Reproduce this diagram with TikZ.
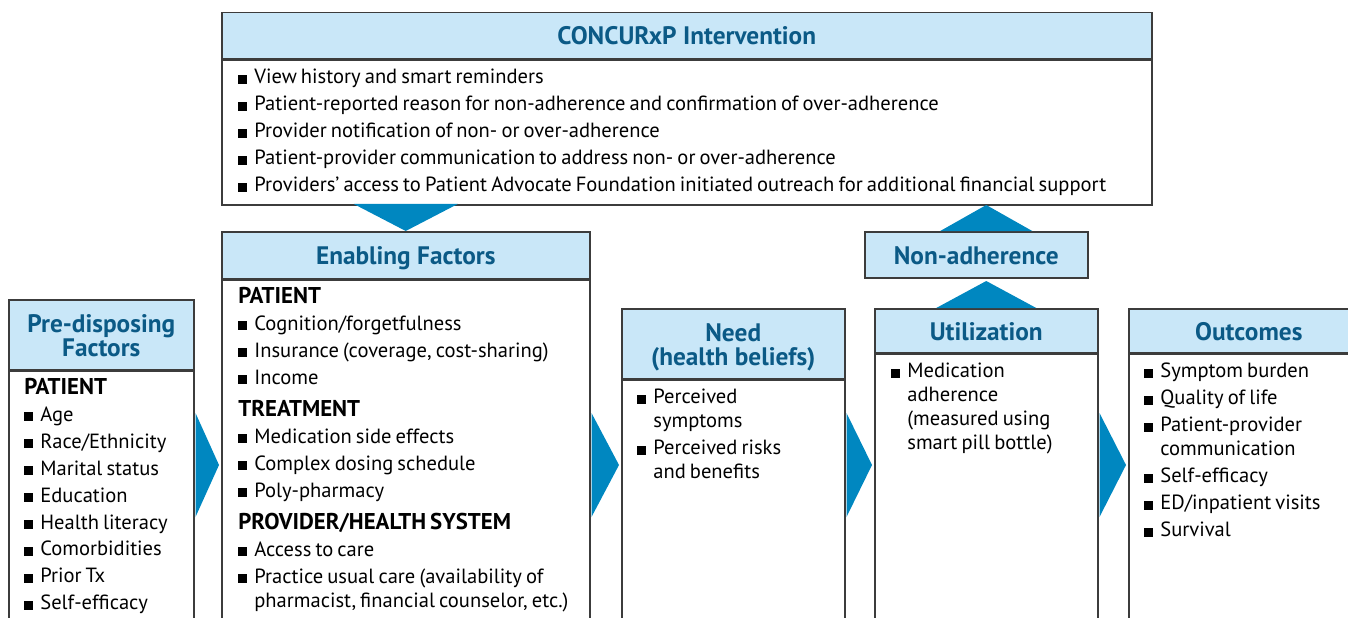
\documentclass[tikz,border=0pt]{standalone}
\usepackage{fontspec}
\setmainfont{PT Sans}
\usetikzlibrary{calc}

\definecolor{headblue}{HTML}{C9E7F8}
\definecolor{titleblue}{HTML}{0B5A86}
\definecolor{arrowblue}{HTML}{0087C0}
\definecolor{framegray}{HTML}{3C3C3C}

\hyphenpenalty=10000
\newdimen\px \px=0.02cm
% bullet item, forced break with indent, group heading
\newcommand{\itm}[1]{\par\parskip=1.7pt\spaceskip=0.2em plus 0.1em minus 0.05em\noindent\makebox[16\px][l]{\rule{9\px}{9\px}}#1}
\newcommand{\nl}{\hfil\break\hspace*{16\px}}
\newcommand{\grp}[1]{\par\parskip=4.6pt\noindent{\fontsize{13}{13.66}\selectfont\bfseries #1}}

\begin{document}
\begin{tikzpicture}[
            x=0.02cm, y=-0.02cm,
            head/.style={
                draw=framegray,
                fill=headblue,
                text=titleblue,
                line width=1.5\px,
                font=\fontsize{14.4}{13.66}\selectfont\bfseries,
                align=center,
                anchor=north west,
                inner sep=0pt,
                text height=12pt,
                text depth=1.2pt
            },
            twoline/.style={text height=26pt, text depth=1pt},
            panel/.style={
                draw=framegray,
                line width=1.5\px,
                anchor=north west,
                inner sep=0pt
            },
            list/.style={
                anchor=north west,
                inner sep=0pt,
                align=left,
                font=\fontsize{11.7}{13.66}\selectfont
            },
            flow/.style={fill=arrowblue}
        ]

            \useasboundingbox (0,0) rectangle (1348,618);
            \clip (0,0) rectangle (1348,618);

            \node[head, text height=11pt, minimum width=930\px, minimum height=46\px] (concur) at (221,12) {CONCURxP Intervention};
            \node[panel, minimum width=930\px, minimum height=145\px] (concurbody) at (concur.south west) {};

            \node[head, minimum width=368\px, minimum height=47\px] (enab) at (221,231) {Enabling Factors};
            \node[panel, minimum width=368\px, minimum height=400\px] (enabbody) at (enab.south west) {};

            \node[head, twoline, minimum width=185\px, minimum height=70\px] (pre) at (8,299) {Pre-disposing\\Factors};
            \node[panel, minimum width=185\px, minimum height=300\px] (prebody) at (pre.south west) {};

            \node[head, twoline, minimum width=223\px, minimum height=70\px] (need) at (621,308) {Need\\(health beliefs)};
            \node[panel, minimum width=223\px, minimum height=300\px] (needbody) at (need.south west) {};

            \node[head, minimum width=223\px, minimum height=44\px] (util) at (874,308) {Utilization};
            \node[panel, minimum width=223\px, minimum height=300\px] (utilbody) at (util.south west) {};

            \node[head, minimum width=240\px, minimum height=44\px] (out) at (1128,308) {Outcomes};
            \node[panel, minimum width=240\px, minimum height=300\px] (outbody) at (out.south west) {};

            \node[head, minimum width=223\px, minimum height=46\px] (non) at (864,231) {Non-adherence};

            \node[list, text width=920\px] (concurlist) at ([shift={(17,-3)}]concurbody.north west) {
                \itm{View history and smart reminders}
                \itm{Patient-reported reason for non-adherence and confirmation of over-adherence}
                \itm{Provider notification of non- or over-adherence}
                \itm{Patient-provider communication to address non- or over-adherence}
                \itm{Providers’ access to Patient Advocate Foundation initiated outreach for additional financial support}};

            \node[list, text width=360\px] (enablist) at ([shift={(17,7)}]enabbody.north west) {
                \noindent{\fontsize{13}{13.66}\selectfont\bfseries PATIENT}
                \itm{Cognition/forgetfulness}
                \itm{Insurance (coverage, cost-sharing)}
                \itm{Income}
                \grp{TREATMENT}
                \itm{Medication side effects}
                \itm{Complex dosing schedule}
                \itm{Poly-pharmacy}
                \grp{PROVIDER/HEALTH SYSTEM}
                \itm{Access to care}
                \itm{Practice usual care (availability of\nl pharmacist, financial counselor, etc.)}};

            \node[list, text width=180\px] (prelist) at ([shift={(16,7)}]prebody.north west) {
                \noindent{\fontsize{13}{13.66}\selectfont\bfseries PATIENT}
                \itm{Age}
                \itm{Race/Ethnicity}
                \itm{Marital status}
                \itm{Education}
                \itm{Health literacy}
                \itm{Comorbidities}
                \itm{Prior Tx}
                \itm{Self-efficacy}};

            \node[list, text width=215\px] (needlist) at ([shift={(16,-3)}]needbody.north west) {
                \itm{Perceived\nl symptoms}
                \itm{Perceived risks\nl and benefits}};

            \node[list, text width=215\px] (utillist) at ([shift={(17,-3)}]utilbody.north west) {
                \itm{Medication\nl adherence\nl (measured using\nl smart pill bottle)}};

            \node[list, text width=225\px] (outlist) at ([shift={(16,-3)}]outbody.north west) {
                \itm{Symptom burden}
                \itm{Quality of life}
                \itm{Patient-provider\nl communication}
                \itm{Self-efficacy}
                \itm{ED/inpatient visits}
                \itm{Survival}};

            \coordinate (mid) at (0,465);
            \coordinate (nonbase) at (util.north |- non.north);

            \fill[flow] ([shift={(-52,-27)}]enab.north) -- ([shift={(52,-27)}]enab.north) -- (enab.north) -- cycle;
            \fill[flow] ([shift={(-46,0)}]nonbase) -- ([shift={(46,0)}]nonbase) -- ([shift={(0,-26)}]nonbase) -- cycle;
            \fill[flow] ([shift={(-50,0)}]util.north) -- ([shift={(50,0)}]util.north) -- ([shift={(0,-27)}]util.north) -- cycle;

            \foreach \a/\b in {prebody/enabbody, enabbody/needbody, needbody/utilbody, utilbody/outbody}
                \fill[flow] ($(\a.east |- mid)+(1,-52)$) -- ($(\b.west |- mid)+(-2,0)$) -- ($(\a.east |- mid)+(1,52)$) -- cycle;

        \end{tikzpicture}
\end{document}
